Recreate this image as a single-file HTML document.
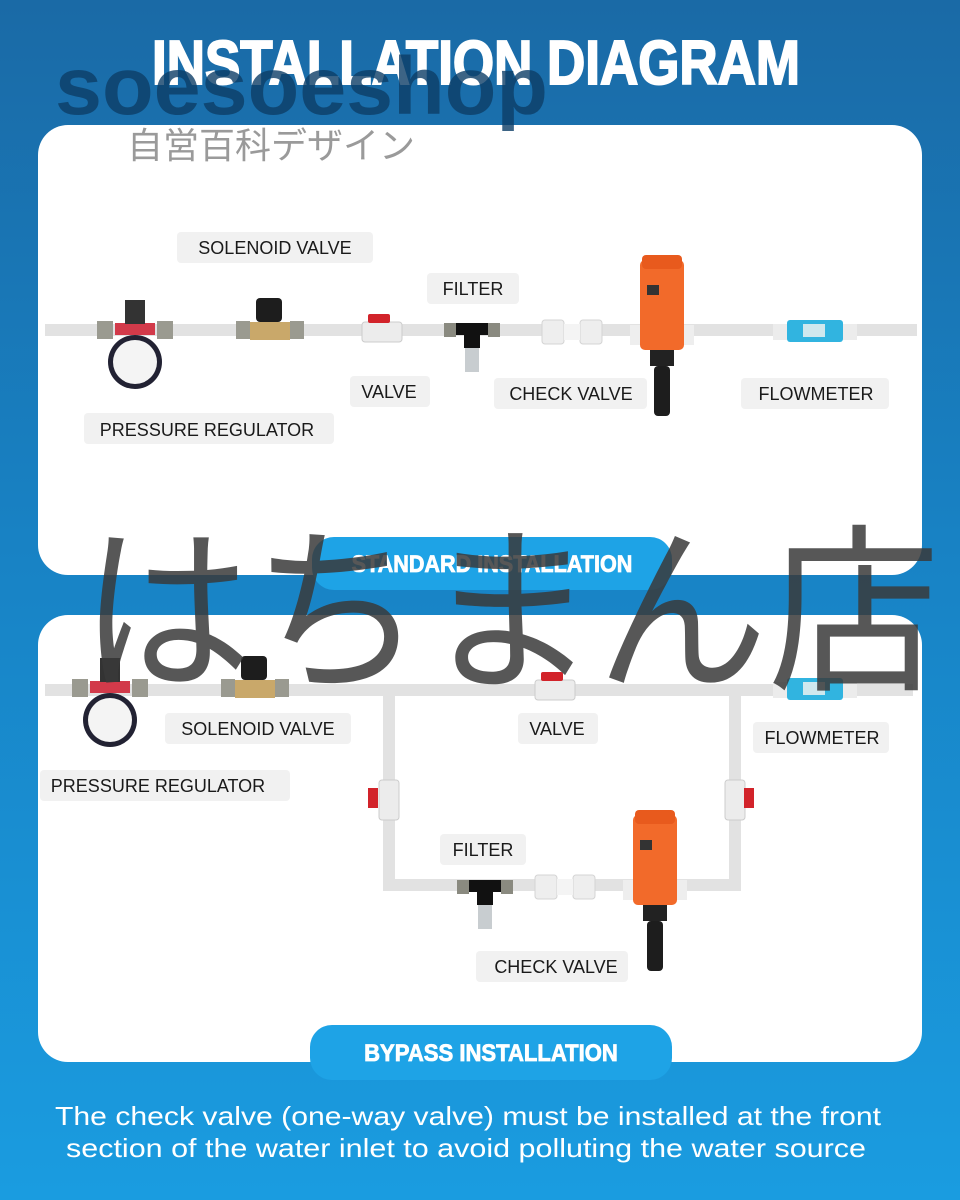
<!DOCTYPE html>
<html><head><meta charset="utf-8"><style>
html,body{margin:0;padding:0}
body{width:960px;height:1200px;overflow:hidden;background:linear-gradient(#1a6aa6 0%,#1882c4 45%,#1a9ce0 100%);position:relative;font-family:"Liberation Sans",sans-serif}
</style></head><body>
<svg width="960" height="1200" style="position:absolute;left:0;top:0">
<defs>
<g id="reg">
 <rect x="-38" y="-9" width="16" height="18" fill="#9a9a90"/><rect x="22" y="-9" width="16" height="18" fill="#9a9a90"/>
 <rect x="-20" y="-7" width="40" height="12" fill="#d23a4a"/>
 <rect x="-10" y="-30" width="20" height="24" fill="#333"/>
 <circle cx="0" cy="32" r="27" fill="#223" /><circle cx="0" cy="32" r="22" fill="#f4f4f4"/>
</g>
<g id="sol">
 <rect x="-34" y="-9" width="14" height="18" fill="#9a9a90"/><rect x="20" y="-9" width="14" height="18" fill="#9a9a90"/>
 <rect x="-20" y="-8" width="40" height="18" fill="#c9a86a"/>
 <rect x="-14" y="-32" width="26" height="24" rx="4" fill="#1d1d1d"/>
</g>
<g id="bv">
 <rect x="-20" y="-10" width="40" height="20" rx="3" fill="#ececec" stroke="#ccc"/>
 <rect x="-14" y="-18" width="22" height="9" rx="2" fill="#d2232a"/>
</g>
<g id="fil">
 <rect x="-28" y="-7" width="12" height="14" fill="#8a8a80"/><rect x="16" y="-7" width="12" height="14" fill="#8a8a80"/>
 <rect x="-16" y="-7" width="32" height="12" fill="#111"/>
 <rect x="-8" y="4" width="16" height="14" fill="#111"/>
 <rect x="-7" y="18" width="14" height="24" fill="#c8cdd0"/>
</g>
<g id="ck">
 <rect x="-30" y="-12" width="22" height="24" rx="3" fill="#eee" stroke="#d4d4d4"/>
 <rect x="8" y="-12" width="22" height="24" rx="3" fill="#eee" stroke="#d4d4d4"/>
 <rect x="-8" y="-8" width="16" height="16" fill="#f4f4f4"/>
</g>
<g id="pump">
 <rect x="-32" y="-10" width="12" height="20" fill="#eee"/><rect x="20" y="-10" width="12" height="20" fill="#eee"/>
 <rect x="-22" y="-75" width="44" height="90" rx="5" fill="#f26a2a"/>
 <rect x="-20" y="-80" width="40" height="14" rx="4" fill="#e85a1d"/>
 <rect x="-15" y="-50" width="12" height="10" fill="#333"/>
 <rect x="-12" y="15" width="24" height="16" fill="#222"/>
 <rect x="-8" y="31" width="16" height="50" rx="4" fill="#1d1d1d"/>
</g>
<g id="fm">
 <rect x="-42" y="-8" width="14" height="16" fill="#ececec"/><rect x="28" y="-8" width="14" height="16" fill="#ececec"/>
 <rect x="-28" y="-12" width="56" height="22" rx="3" fill="#31b4e0"/>
 <rect x="-12" y="-8" width="22" height="13" fill="#cfe8ee"/>
</g>
</defs>
<rect x="38" y="125" width="884" height="450" rx="30" fill="#fff"/>
<rect x="38" y="615" width="884" height="447" rx="30" fill="#fff"/>
<rect x="45" y="324" width="872" height="12" fill="#e2e2e2"/>
<use href="#reg" x="135" y="330"/>
<use href="#sol" x="270" y="330"/>
<use href="#bv" x="382" y="332"/>
<use href="#fil" x="472" y="330"/>
<use href="#ck" x="572" y="332"/>
<use href="#pump" x="662" y="335"/>
<use href="#fm" x="815" y="332"/>
<rect x="45" y="684" width="868" height="12" fill="#e2e2e2"/>
<rect x="383" y="690" width="12" height="200" fill="#e2e2e2"/>
<rect x="729" y="690" width="12" height="200" fill="#e2e2e2"/>
<rect x="383" y="879" width="358" height="12" fill="#e2e2e2"/>
<use href="#reg" x="110" y="688"/>
<use href="#sol" x="255" y="688"/>
<use href="#bv" x="555" y="690"/>
<use href="#fm" x="815" y="690"/>
<g transform="translate(389,800) rotate(90)"><rect x="-20" y="-10" width="40" height="20" rx="3" fill="#ececec" stroke="#ccc"/></g>
<rect x="368" y="788" width="10" height="20" fill="#d2232a"/>
<g transform="translate(735,800) rotate(90)"><rect x="-20" y="-10" width="40" height="20" rx="3" fill="#ececec" stroke="#ccc"/></g>
<rect x="744" y="788" width="10" height="20" fill="#d2232a"/>
<use href="#fil" x="485" y="887"/>
<use href="#ck" x="565" y="887"/>
<use href="#pump" x="655" y="890"/>
<rect x="312" y="537" width="360" height="53" rx="22" fill="#1ea3e6"/>
<rect x="310" y="1025" width="362" height="55" rx="22" fill="#1ea3e6"/>
<g fill="#f1f1f1">
<rect x="177" y="232" width="196" height="31" rx="4"/>
<rect x="427" y="273" width="92" height="31" rx="4"/>
<rect x="350" y="376" width="80" height="31" rx="4"/>
<rect x="494" y="378" width="153" height="31" rx="4"/>
<rect x="741" y="378" width="148" height="31" rx="4"/>
<rect x="84" y="413" width="250" height="31" rx="4"/>
<rect x="165" y="713" width="186" height="31" rx="4"/>
<rect x="518" y="713" width="80" height="31" rx="4"/>
<rect x="753" y="722" width="136" height="31" rx="4"/>
<rect x="40" y="770" width="250" height="31" rx="4"/>
<rect x="440" y="834" width="86" height="31" rx="4"/>
<rect x="476" y="951" width="152" height="31" rx="4"/>
</g>
<g font-family="Liberation Sans, sans-serif" font-size="18" fill="#1a1a1a" text-anchor="middle">
<text x="275" y="254">SOLENOID VALVE</text>
<text x="473" y="295">FILTER</text>
<text x="389" y="398">VALVE</text>
<text x="571" y="400">CHECK VALVE</text>
<text x="816" y="400">FLOWMETER</text>
<text x="207" y="436">PRESSURE REGULATOR</text>
<text x="258" y="735">SOLENOID VALVE</text>
<text x="557" y="735">VALVE</text>
<text x="822" y="744">FLOWMETER</text>
<text x="158" y="792">PRESSURE REGULATOR</text>
<text x="483" y="856">FILTER</text>
<text x="556" y="973">CHECK VALVE</text>
</g>
<g font-family="Liberation Sans, sans-serif" font-weight="bold" fill="#fff" stroke="#fff" text-anchor="middle">
<text x="476" y="84" font-size="62" stroke-width="2" textLength="648" lengthAdjust="spacingAndGlyphs">INSTALLATION DIAGRAM</text>
<text x="492" y="572" font-size="24" stroke-width="0.8" transform="translate(492,0) scale(0.9,1) translate(-492,0)">STANDARD INSTALLATION</text>
<text x="491" y="1061" font-size="24" stroke-width="0.8" transform="translate(491,0) scale(0.92,1) translate(-491,0)">BYPASS INSTALLATION</text>
</g>
<text x="55" y="114" font-family="Liberation Sans, sans-serif" font-weight="bold" font-size="82" fill="#0d3d66" fill-opacity="0.8" textLength="493" lengthAdjust="spacingAndGlyphs">soesoeshop</text>
<text x="127" y="158" font-family="Liberation Sans, Noto Sans CJK JP, sans-serif" font-size="36" fill="#888" fill-opacity="0.85">自営百科デザイン</text>
<g font-family="Liberation Sans, sans-serif" font-size="26" fill="#fff" text-anchor="middle">
<text x="468" y="1125" textLength="826" lengthAdjust="spacingAndGlyphs">The check valve (one-way valve) must be installed at the front</text>
<text x="466" y="1157" textLength="800" lengthAdjust="spacingAndGlyphs">section of the water inlet to avoid polluting the water source</text>
</g>
<text x="510" y="676" font-family="Noto Sans CJK JP, sans-serif" font-size="180" fill="#3a3a3a" fill-opacity="0.85" text-anchor="middle" textLength="860" lengthAdjust="spacingAndGlyphs">はちまん店</text>
</svg>
</body></html>
